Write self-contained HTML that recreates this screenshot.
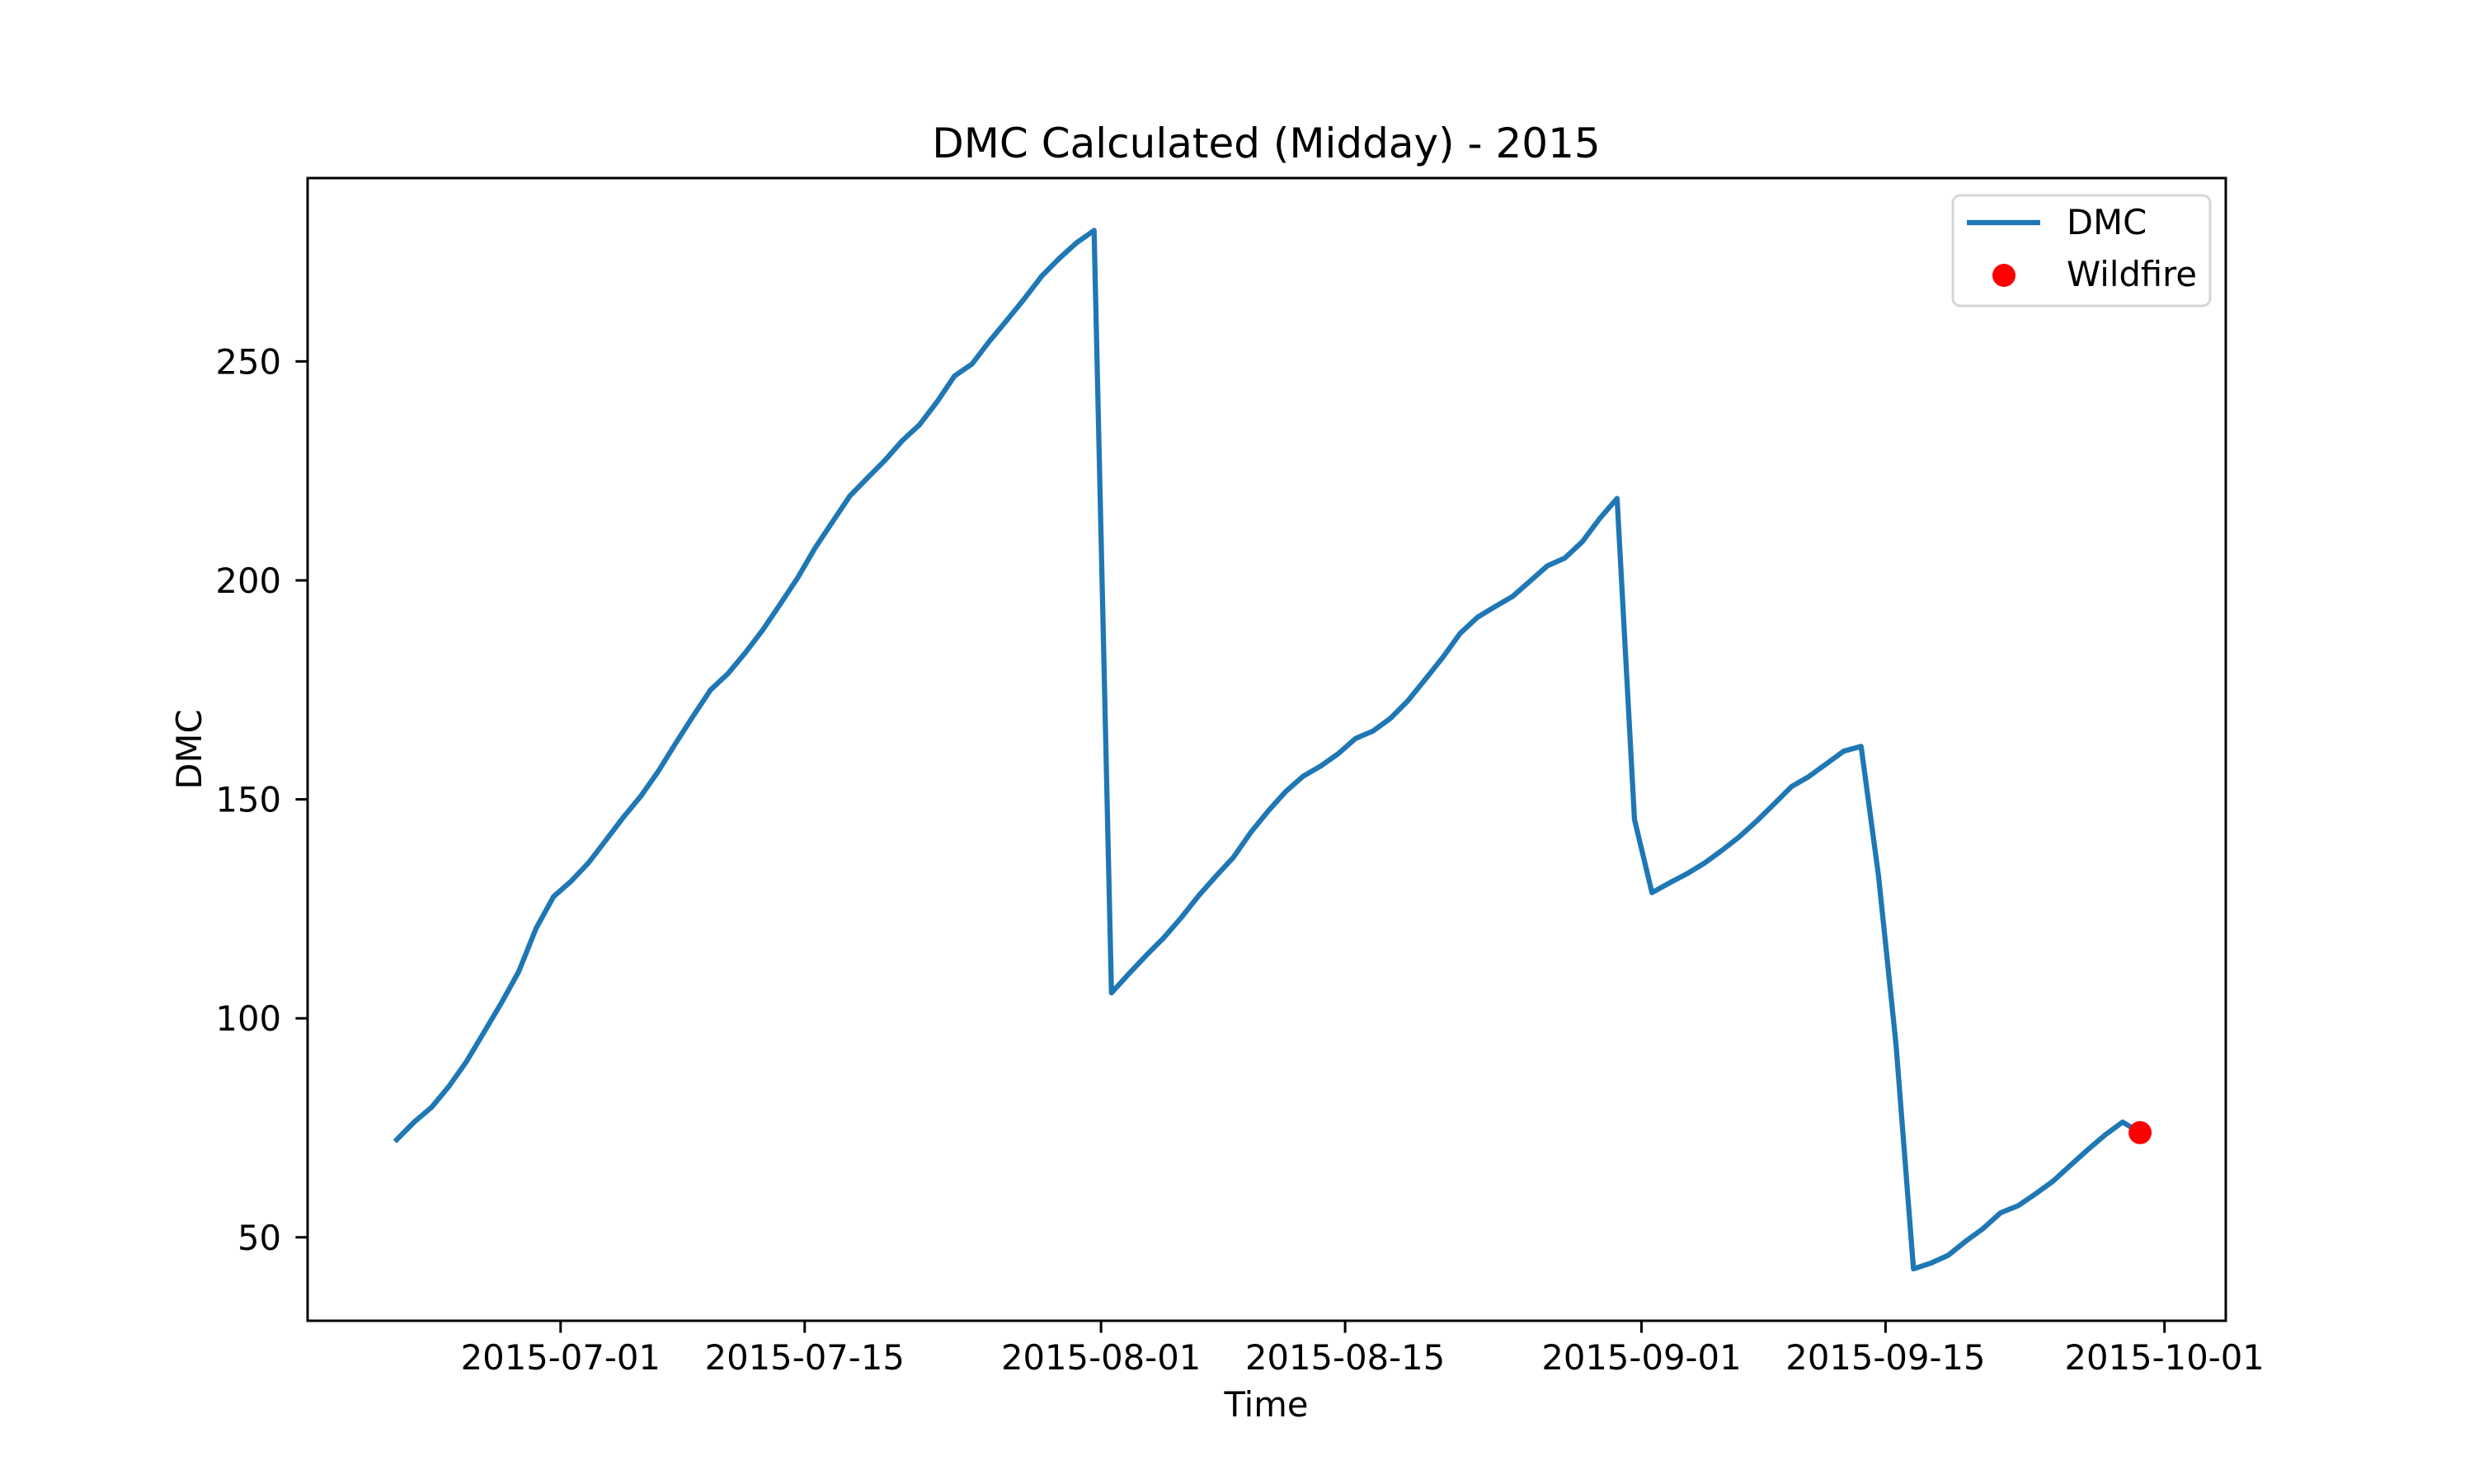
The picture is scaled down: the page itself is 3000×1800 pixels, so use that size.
<!DOCTYPE html>
<html><head><meta charset="utf-8"><style>
html,body{margin:0;padding:0;background:#fff;}
svg{display:block;font-family:"DejaVu Sans","Liberation Sans",sans-serif;}
</style></head><body>
<svg id="chart" width="3000" height="1800" viewBox="0 0 3000 1800" xmlns="http://www.w3.org/2000/svg">
<rect width="3000" height="1800" fill="#fff"/>
<text x="1535.5" y="191" font-size="50" text-anchor="middle">DMC Calculated (Midday) - 2015</text>
<g id="yticks"></g>
<g id="xticks"></g>
<g id="plot"></g>
<rect x="373" y="216" width="2326" height="1386" fill="none" stroke="#000" stroke-width="3"/>
<text x="1535.5" y="1718" font-size="41.7" text-anchor="middle">Time</text>
<text x="244" y="909" font-size="41.7" text-anchor="middle" transform="rotate(-90 244 909)">DMC</text>
<g>
<rect x="2368" y="237" width="312" height="134" rx="9" fill="#fff" fill-opacity="0.8" stroke="#d6d6d6" stroke-width="3"/>
<line x1="2385" y1="270" x2="2474" y2="270" stroke="#1f77b4" stroke-width="6.25"/>
<text x="2506" y="284" font-size="41.7">DMC</text>
<circle cx="2430" cy="334" r="14" fill="#ff0000"/>
<text x="2506" y="347" font-size="41.7">Wildfire</text>
</g>
</svg>
<script>
const startDayOffset = -9.4; // days relative to 2015-07-01 for first sample
const dmcValues = [72.3,76.3,79.7,84.5,90.1,96.8,103.5,110.7,120.6,127.8,131.3,135.5,140.7,145.9,150.7,156.4,162.8,169.0,175.0,178.7,183.5,188.7,194.6,200.6,207.4,213.4,219.3,223.4,227.4,231.9,235.6,240.8,246.7,249.4,254.6,259.4,264.3,269.5,273.5,277.1,279.9,
105.8,110.2,114.4,118.4,123.0,128.0,132.5,136.8,142.5,147.4,151.8,155.3,157.6,160.4,163.9,165.6,168.5,172.5,177.4,182.4,187.9,191.6,194.0,196.3,199.8,203.3,205.1,208.8,214.1,218.7,
145.4,128.7,130.9,133.0,135.4,138.3,141.4,145.0,148.9,152.9,155.2,158.1,161.0,162.1,
132.4,94.1,42.8,44.1,45.9,49.1,52.0,55.6,57.2,59.9,62.8,66.4,70.0,73.4,76.3,73.9];
const wildfireDays = [90.6];
const wildfireValues = [73.9];
const yTickValues = [50,100,150,200,250];
const xTickDays = [0,14,31,45,62,76,92];
const xTickLabels = ["2015-07-01","2015-07-15","2015-08-01","2015-08-15","2015-09-01","2015-09-15","2015-10-01"];

const NS = "http://www.w3.org/2000/svg";
const yMin = 30.94, yMax = 291.86;
function xScale(d){ return 679.8 + 21.14 * d; }
function yScale(v){ return 1602 - (v - yMin) * (1386 / (yMax - yMin)); }
function mk(tag, attrs){ const e = document.createElementNS(NS, tag); for (const k in attrs) e.setAttribute(k, attrs[k]); return e; }

const yg = document.getElementById('yticks');
yTickValues.forEach(v => {
  const y = yScale(v);
  const t = mk('line', {x1: 358.4, x2: 373, y1: y, y2: y, stroke: '#000', 'stroke-width': 3});
  
  
  yg.appendChild(t);
  const l = mk('text', {x: 341, y: y + 15, 'font-size': 41.7, 'text-anchor': 'end'});
  l.textContent = String(v);
  
  
  yg.appendChild(l);
});
const xg = document.getElementById('xticks');
xTickDays.forEach((d, i) => {
  const x = xScale(d);
  const t = mk('line', {x1: x, x2: x, y1: 1602, y2: 1616.6, stroke: '#000', 'stroke-width': 3});
  
  
  xg.appendChild(t);
  const l = mk('text', {x: x, y: 1661, 'font-size': 41.7, 'text-anchor': 'middle'});
  l.textContent = xTickLabels[i];
  
  
  xg.appendChild(l);
});
const pg = document.getElementById('plot');
const pts = dmcValues.map((v, i) => xScale(startDayOffset + i).toFixed(1) + ',' + yScale(v).toFixed(1)).join(' ');
const line = mk('polyline', {points: pts, fill: 'none', stroke: '#1f77b4', 'stroke-width': 6.25, 'stroke-linejoin': 'round', 'stroke-linecap': 'square'});


pg.appendChild(line);
wildfireDays.forEach((d, i) => {
  const c = mk('circle', {cx: xScale(d), cy: yScale(wildfireValues[i]), r: 14, fill: '#ff0000'});
  
  
  pg.appendChild(c);
});
</script>
</body></html>
